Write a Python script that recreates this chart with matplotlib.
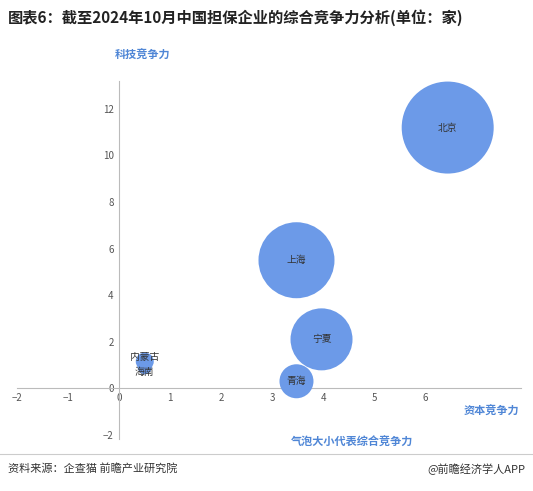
import matplotlib
matplotlib.use("Agg")
import matplotlib.pyplot as plt

plt.rcParams["font.family"] = ["Noto Sans CJK SC", "DejaVu Sans"]

provinces = ["北京", "上海", "宁夏", "青海", "内蒙古", "海南"]
capital = [6.43, 3.47, 3.96, 3.47, 0.5, 0.5]
tech = [11.2, 5.5, 2.1, 0.3, 1.15, 0.9]
overall = [46, 38, 31, 17, 9, 7]  # bubble radius in px

BLUE = "#6c9ae8"
LABEL_BLUE = "#4f86d6"

fig = plt.figure(figsize=(5.33, 4.91), dpi=100)
ax = fig.add_axes([0.032, 0.105, 0.945, 0.73])
sizes = [(2 * r * 0.72) ** 2 for r in overall]
ax.scatter(capital, tech, s=sizes, color=BLUE, edgecolor="none", zorder=3)
for name, x, y in zip(provinces, capital, tech):
    dy = 0.2 if name == "内蒙古" else (-0.2 if name == "海南" else 0)
    ax.text(x, y + dy, name, ha="center", va="center", fontsize=7, color="#333333", zorder=4)

ax.set_xlim(-2, 7.86)
ax.set_ylim(-2.2, 13.2)
ax.set_xticks(range(-2, 7))
ax.set_yticks(range(-2, 13, 2))
ax.spines["left"].set_position(("data", 0))
ax.spines["bottom"].set_position(("data", 0))
for side in ("top", "right"):
    ax.spines[side].set_visible(False)
for side in ("left", "bottom"):
    ax.spines[side].set_color("#bbbbbb")
ax.tick_params(length=0, labelsize=7, colors="#555555")
ax.tick_params(axis="y", pad=4)

fig.text(0.015, 0.965, "图表6：截至2024年10月中国担保企业的综合竞争力分析(单位：家)",
         fontsize=11, fontweight="bold", color="#222222", va="center")
fig.text(0.215, 0.88, "科技竞争力", fontsize=8, fontweight="bold", color=LABEL_BLUE, ha="left")
fig.text(0.87, 0.155, "资本竞争力", fontsize=8, fontweight="bold", color=LABEL_BLUE)
fig.text(0.66, 0.092, "气泡大小代表综合竞争力", fontsize=8, fontweight="bold",
         color=LABEL_BLUE, ha="center")
fig.add_artist(plt.Line2D([0, 1], [0.075, 0.075], color="#cccccc", linewidth=0.8))
fig.text(0.015, 0.045, "资料来源：企查猫 前瞻产业研究院", fontsize=8, color="#333333", va="center")
fig.text(0.985, 0.045, "@前瞻经济学人APP", fontsize=8, color="#333333", va="center", ha="right")

fig.savefig("out.png", dpi=100, facecolor="white")
